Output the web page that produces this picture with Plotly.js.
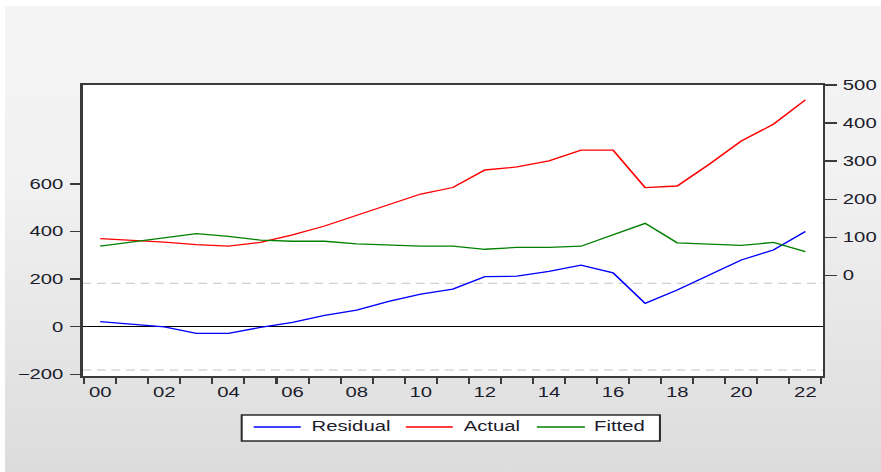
<!DOCTYPE html>
<html>
<head>
<meta charset="utf-8">
<script src="https://cdn.plot.ly/plotly-3.0.1.min.js"></script>
<style>
  html, body { margin: 0; padding: 0; background: #ffffff; overflow: hidden; }
  #backdrop {
    position: absolute; left: 5px; top: 6px; width: 876px; height: 466px;
    background: linear-gradient(to bottom, #f4f4f4 0%, #f2f2f2 35%, #dcdcdc 100%);
  }
  /* the graph is laid out narrow and widened horizontally, giving the wide lettering */
  #chart {
    position: absolute; left: 0; top: 0; width: 608px; height: 472px;
    transform: scaleX(1.449); transform-origin: 0 0;
  }
</style>
</head>
<body>
<div id="backdrop"></div>
<div id="chart"></div>
<script>
// Annual observations 2000-2022
const years = [2000, 2001, 2002, 2003, 2004, 2005, 2006, 2007, 2008, 2009, 2010, 2011,
               2012, 2013, 2014, 2015, 2016, 2017, 2018, 2019, 2020, 2021, 2022];
const residual = [21, 10, -1, -28, -28, -3, 18, 48, 70, 106, 137, 158,
                  210, 212, 232, 258, 226, 98, 154, 217, 280, 322, 400];
const actual = [97, 92, 88, 81, 77, 87, 107, 130, 158, 185, 214, 231,
                277, 285, 301, 329, 329, 231, 235, 292, 353, 397, 461];
const fitted = [77, 88, 99, 110, 103, 93, 90, 90, 83, 80, 77, 77,
                69, 74, 74, 77, 107, 137, 86, 82, 79, 87, 63];
const seriesNames = ['Residual', 'Actual', 'Fitted'];
const residualTicks = [-200, 0, 200, 400, 600];
const levelTicks = [0, 100, 200, 300, 400, 500];
const regressionSE = 182;

const yearTicks = years.filter(y => y % 2 === 0);
const yearLabels = yearTicks.map(y => String(y % 100).padStart(2, '0'));

const SX = 1.449;            // horizontal stretch applied by CSS
const W = 608, H = 472;
const L = 83 / SX, R = 58 / SX, T = 85, B = 96;
const frameColor = '#3a3a3a';
const textColor = '#1c1c2c';
const font = { family: 'Liberation Sans, Arial, sans-serif', size: 14, color: textColor };

// outer-pixel position -> paper fraction
const plotLeft = 83, plotRight = 881 - 58, plotTop = T, plotBottom = H - B;
const px = X => (X - plotLeft) / (plotRight - plotLeft);
const py = Y => (plotBottom - Y) / (plotBottom - plotTop);

const colors = ['#0000ff', '#ff0000', '#008000'];

const traces = [
  { x: years, y: residual, name: seriesNames[0], type: 'scatter', mode: 'lines',
    yaxis: 'y', line: { color: colors[0], width: 1.3 }, hoverinfo: 'skip' },
  { x: years, y: actual, name: seriesNames[1], type: 'scatter', mode: 'lines',
    yaxis: 'y2', line: { color: colors[1], width: 1.3 }, hoverinfo: 'skip' },
  { x: years, y: fitted, name: seriesNames[2], type: 'scatter', mode: 'lines',
    yaxis: 'y2', line: { color: colors[2], width: 1.3 }, hoverinfo: 'skip' }
];

// dashed +/- one standard error bands around zero residual
const shapes = [regressionSE, -regressionSE].map(v => ({
  type: 'line', xref: 'paper', yref: 'y', x0: 0, x1: 1, y0: v, y1: v,
  layer: 'below', line: { color: '#c4c4c4', width: 1, dash: '6px,4px' }
}));

// legend box below the plot
const legBox = { x0: 242, x1: 660, y0: 415, y1: 441 };
shapes.push({
  type: 'rect', xref: 'paper', yref: 'paper',
  x0: px(legBox.x0), x1: px(legBox.x1), y0: py(legBox.y0), y1: py(legBox.y1),
  fillcolor: '#ffffff', line: { color: '#2a2a2a', width: 1.4 }
});
const legItems = [
  { lx0: 254, lx1: 301, tx: 309 },
  { lx0: 406, lx1: 453, tx: 461 },
  { lx0: 537, lx1: 585, tx: 592 }
];
const legLineY = 427, legTextY = 426;
const annotations = [];
legItems.forEach((it, i) => {
  shapes.push({
    type: 'line', xref: 'paper', yref: 'paper',
    x0: px(it.lx0), x1: px(it.lx1), y0: py(legLineY), y1: py(legLineY),
    line: { color: colors[i], width: 1.3 }
  });
  annotations.push({
    xref: 'paper', yref: 'paper', x: px(it.tx), y: py(legTextY),
    xanchor: 'left', yanchor: 'middle', showarrow: false,
    text: seriesNames[i], font: font
  });
});

const layout = {
  width: W, height: H,
  margin: { l: L, r: R, t: T, b: B, pad: 0 },
  paper_bgcolor: 'rgba(0,0,0,0)',
  plot_bgcolor: '#ffffff',
  showlegend: false,
  font: font,
  xaxis: {
    range: [1999.45, 2022.55],
    tickmode: 'array', tickvals: yearTicks, ticktext: yearLabels,
    ticks: '', tickfont: font, ticklabelstandoff: 3,
    showline: true, linecolor: frameColor, linewidth: 1.6, mirror: true,
    showgrid: false, zeroline: false,
    minor: { tickmode: 'linear', tick0: 1999.5, dtick: 1, ticks: 'outside',
             ticklen: 6, tickwidth: 1.4, tickcolor: frameColor, showgrid: false }
  },
  yaxis: {
    range: [-206.9, 1014.5],
    tickmode: 'array', tickvals: residualTicks,
    ticks: 'outside', ticklen: 10 / SX, tickwidth: 1.5, tickcolor: frameColor,
    tickfont: font, ticklabelstandoff: 2,
    showline: true, linecolor: frameColor, linewidth: 1.6,
    showgrid: false,
    zeroline: true, zerolinecolor: '#000000', zerolinewidth: 1.2
  },
  yaxis2: {
    overlaying: 'y', side: 'right',
    range: [-263.5, 500],
    tickmode: 'array', tickvals: levelTicks,
    ticks: 'outside', ticklen: 12 / SX, tickwidth: 1.5, tickcolor: frameColor,
    tickfont: font, ticklabelstandoff: 1,
    showline: true, linecolor: frameColor, linewidth: 1.6,
    showgrid: false, zeroline: false
  },
  shapes: shapes,
  annotations: annotations
};

Plotly.newPlot('chart', traces, layout, { staticPlot: true, displayModeBar: false, responsive: false });
</script>
</body>
</html>
